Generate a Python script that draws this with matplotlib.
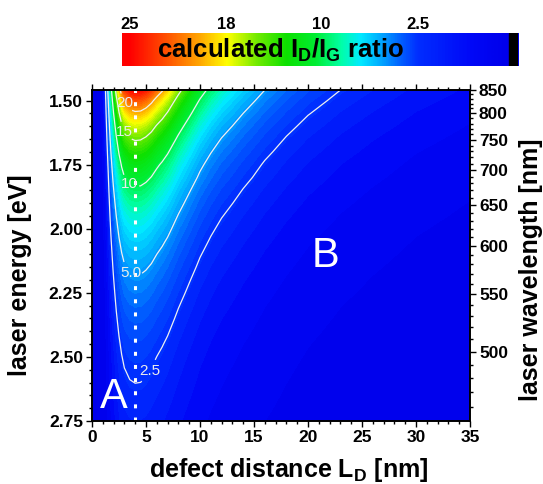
import numpy as np
import matplotlib
matplotlib.use("Agg")
import matplotlib.pyplot as plt
from matplotlib.colors import LinearSegmentedColormap
from matplotlib.ticker import MultipleLocator, FixedLocator, FormatStrFormatter

plt.rcParams["font.family"] = "Liberation Sans"
plt.rcParams["font.weight"] = "bold"
plt.rcParams["axes.labelweight"] = "bold"
plt.rcParams["mathtext.fontset"] = "custom"
plt.rcParams["mathtext.rm"] = "Liberation Sans:bold"
plt.rcParams["mathtext.it"] = "Liberation Sans:bold"
plt.rcParams["mathtext.bf"] = "Liberation Sans:bold"

# данні, зчитані з рисунку
# профіль I_D/I_G вздовж L_D (відносно максимуму при L_D = 4 нм)
ld = [0, 0.5, 1.0, 1.25, 1.5, 1.75, 2.0, 2.25, 2.5, 2.75, 3.0, 3.5, 4.0, 4.5, 5.0, 5.5,
      6.0, 6.5, 7.0, 8.0, 9.0, 10, 11, 12, 14, 16, 18, 20, 23, 26, 30, 35]
profile = [0, 0.0, 0.03, 0.10, 0.22, 0.37, 0.51, 0.64, 0.755, 0.85, 0.92, 0.98, 1.0, 0.995,
           0.965, 0.92, 0.86, 0.81, 0.755, 0.63, 0.53, 0.44, 0.375, 0.325, 0.255, 0.20,
           0.16, 0.13, 0.10, 0.08, 0.06, 0.045]
# енергія лазера [eV] і I_D/I_G у максимумі (L_D = 4 нм)
energy = [1.45, 1.50, 1.55, 1.60, 1.65, 1.70, 1.75, 1.80, 1.85, 1.90, 1.95, 2.00, 2.05, 2.10,
          2.15, 2.20, 2.25, 2.30, 2.35, 2.40, 2.45, 2.50, 2.55, 2.60, 2.65, 2.70, 2.75]
peak_ratio = [25.6, 22.3, 19.6, 17.2, 15.2, 13.5, 12.0, 10.8, 9.65, 8.67, 7.82, 7.06, 6.40,
              5.81, 5.29, 4.82, 4.41, 4.04, 3.71, 3.41, 3.14, 2.90, 2.69, 2.51, 2.33, 2.16, 2.00]
peak_ld = 4.0

contour_levels = [2.5, 5.0, 10, 15, 20]
contour_fmt = {2.5: "2.5", 5.0: "5.0", 10: "10", 15: "15", 20: "20"}
cbar_ticks = [25, 18, 10, 2.5]
wl_major = [850, 800, 750, 700, 650, 600, 550, 500]
wl_minor = list(range(460, 851, 10))
hc = 1239.84  # eV*nm

ratio = np.outer(peak_ratio, profile)

cmap = LinearSegmentedColormap.from_list("ratio", [
    (0.00, (0.00, 0.00, 0.92)),
    (0.04, (0.00, 0.03, 0.97)),
    (0.10, (0.00, 0.18, 1.00)),
    (0.16, (0.00, 0.40, 1.00)),
    (0.22, (0.00, 0.68, 1.00)),
    (0.28, (0.00, 0.92, 1.00)),
    (0.34, (0.00, 1.00, 0.65)),
    (0.42, (0.00, 0.93, 0.20)),
    (0.52, (0.05, 0.88, 0.00)),
    (0.62, (0.45, 0.92, 0.00)),
    (0.72, (1.00, 1.00, 0.00)),
    (0.80, (1.00, 0.65, 0.00)),
    (0.90, (1.00, 0.30, 0.00)),
    (1.00, (1.00, 0.00, 0.00)),
])

fig = plt.figure(figsize=(5.43, 4.84), dpi=100)
ax = fig.add_axes([0.1694, 0.1302, 0.6961, 0.6839])

ax.contourf(ld, energy, ratio, levels=np.arange(0, 26.2, 0.4), cmap=cmap,
            vmin=0, vmax=25, extend="both")
cs = ax.contour(ld, energy, ratio, levels=contour_levels, colors="#f0f0f0", linewidths=0.9)
labels = ax.clabel(cs, fmt=contour_fmt, inline=True, inline_spacing=2, fontsize=11,
                   colors="#ececec",
                   manual=[(3.1, 1.508), (3.0, 1.622), (3.5, 1.823), (3.5, 2.177), (5.3, 2.555)])
for t in labels:
    t.set_fontweight("normal")
    t.set_rotation(0)

ax.axvline(peak_ld, color="white", lw=2.2, dashes=(1.3, 3.0))

ax.text(2.0, 2.655, "A", color="white", fontsize=30, fontweight="normal", ha="center", va="center")
ax.text(21.6, 2.105, "B", color="white", fontsize=30, fontweight="normal", ha="center", va="center")

ax.set_xlim(0, 35)
ax.set_ylim(2.75, hc / 850)
ax.xaxis.set_major_locator(MultipleLocator(5))
ax.xaxis.set_minor_locator(MultipleLocator(1))
ax.yaxis.set_major_locator(MultipleLocator(0.25))
ax.yaxis.set_minor_locator(MultipleLocator(0.05))
ax.yaxis.set_major_formatter(FormatStrFormatter("%.2f"))
ax.tick_params(which="both", direction="out", top=True, right=False, width=1.0, labelsize=12.5)
ax.tick_params(which="major", length=4.5, pad=2)
ax.tick_params(which="minor", length=2.5)
for s in ax.spines.values():
    s.set_linewidth(1.2)

ax.set_xlabel(r"defect distance L$_D$ [nm]", fontsize=18)
ax.xaxis.set_label_coords(0.52, -0.105)
ax.set_ylabel("laser energy [eV]", fontsize=18)
ax.yaxis.set_label_coords(-0.16, 0.44)

# права вісь: довжина хвилі
ax2 = ax.twinx()
ax2.set_ylim(ax.get_ylim())
ax2.yaxis.set_major_locator(FixedLocator([hc / w for w in wl_major]))
ax2.yaxis.set_minor_locator(FixedLocator([hc / w for w in wl_minor]))
ax2.set_yticklabels([str(w) for w in wl_major])
ax2.tick_params(which="both", direction="out", width=1.0, labelsize=12.5)
ax2.tick_params(which="major", length=4.5, pad=2)
ax2.tick_params(which="minor", length=2.5)
for s in ax2.spines.values():
    s.set_linewidth(1.2)
ax2.set_ylabel("laser wavelength [nm]", fontsize=18)
ax2.yaxis.set_label_coords(1.13, 0.456)

# шкала кольорів зверху
cax = fig.add_axes([0.2247, 0.8636, 0.7293, 0.0682])
pos = np.linspace(0, 1, 500)
bar = np.interp(pos, [0, 0.018, 0.264, 0.504, 0.747, 0.975], [25.5, 25, 18, 10, 2.5, 0])
cax.imshow(bar[np.newaxis, :], aspect="auto", cmap=cmap, vmin=0, vmax=25,
           extent=(0, 1, 0, 1))
cax.axvspan(0.978, 1.0, color="black")
cax.set_xlim(0, 1)
cax.set_ylim(0, 1)
cax.xaxis.tick_top()
cax.set_xticks([0.018, 0.264, 0.504, 0.747])
cax.set_xticklabels([str(v) for v in cbar_ticks])
cax.tick_params(axis="x", length=0, labelsize=12, pad=1)
cax.set_yticks([])
for s in cax.spines.values():
    s.set_visible(False)
cax.text(0.40, 0.47, r"calculated I$_D$/I$_G$ ratio", ha="center", va="center", fontsize=18.5)

fig.savefig("out.png", dpi=100)
